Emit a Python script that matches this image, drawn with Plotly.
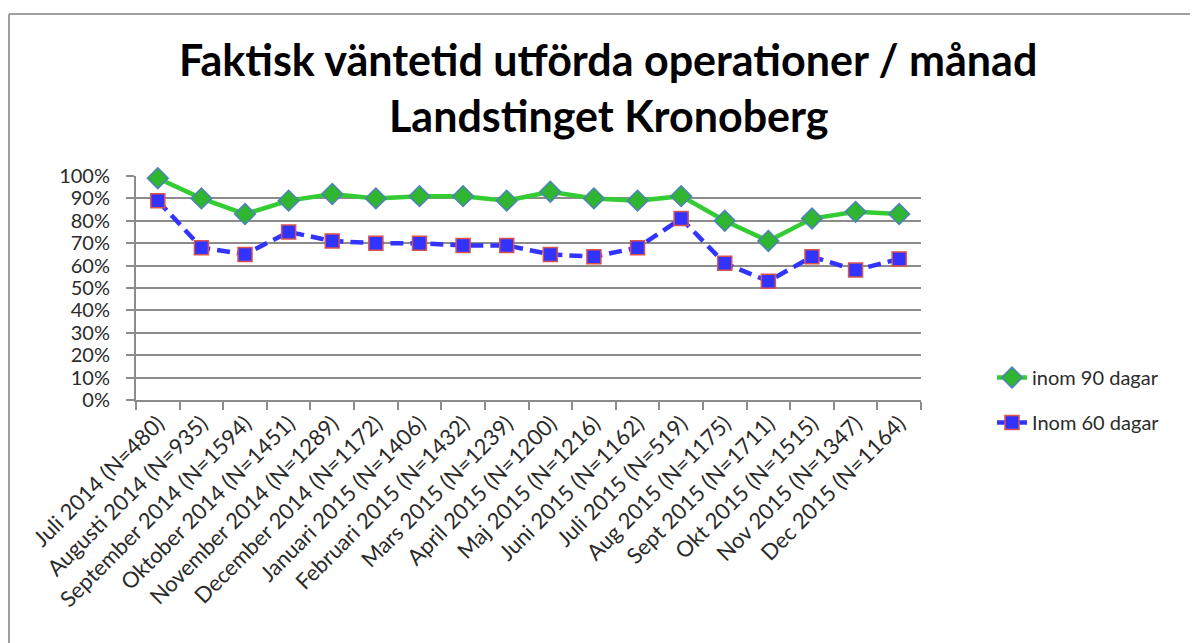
import plotly.graph_objects as go

categories = [
    "Juli 2014 (N=480)", "Augusti 2014 (N=935)", "September 2014 (N=1594)",
    "Oktober 2014 (N=1451)", "November 2014 (N=1289)", "December 2014 (N=1172)",
    "Januari 2015 (N=1406)", "Februari 2015 (N=1432)", "Mars 2015 (N=1239)",
    "April 2015 (N=1200)", "Maj 2015 (N=1216)", "Juni 2015 (N=1162)",
    "Juli 2015 (N=519)", "Aug 2015 (N=1175)", "Sept 2015 (N=1711)",
    "Okt 2015 (N=1515)", "Nov 2015 (N=1347)", "Dec 2015 (N=1164)",
]
inom_90 = [99, 90, 83, 89, 92, 90, 91, 91, 89, 93, 90, 89, 91, 80, 71, 81, 84, 83]
inom_60 = [89, 68, 65, 75, 71, 70, 70, 69, 69, 65, 64, 68, 81, 61, 53, 64, 58, 63]
series_names = ["inom 90 dagar", "Inom 60 dagar"]
title_lines = ["Faktisk väntetid utförda operationer / månad", "Landstinget Kronoberg"]

# page has an 8px body margin; figure coordinates = screen - 8
W, H = 1190, 635
L, R, T, B = 128, 277, 168, 243
pw, ph = W - L - R, H - T - B

def px(x):
    return (x - L) / pw

def py(y):
    return (H - B - y) / ph

font_family = "Lato, sans-serif"
text_color = "#2b2b2b"

fig = go.Figure()
fig.add_trace(go.Scatter(
    x=categories, y=inom_90, name=series_names[0], mode="lines+markers",
    legendgroup="a", cliponaxis=False,
    line=dict(color="#33cc33", width=4.5),
    marker=dict(symbol="diamond", size=16, color="#2fb52f",
                line=dict(color="#4f81bd", width=1.5)),
))
fig.add_trace(go.Scatter(
    x=categories, y=inom_60, name=series_names[1], mode="lines+markers",
    legendgroup="b", cliponaxis=False,
    line=dict(color="#3333ff", width=4.5, dash="13px,7px"),
    marker=dict(symbol="square", size=14, color="#3333ff",
                line=dict(color="#d9534f", width=1.5)),
))

fig.update_layout(
    width=W, height=H,
    margin=dict(l=L, r=R, t=T, b=B),
    paper_bgcolor="white", plot_bgcolor="white",
    showlegend=True,
    legend=dict(x=px(984), y=py(350), xanchor="left", yanchor="top",
                font=dict(family=font_family, size=20, color=text_color),
                tracegroupgap=16, traceorder="grouped",
                bgcolor="rgba(0,0,0,0)"),
    font=dict(family=font_family, color=text_color),
)

fig.update_xaxes(
    type="category", tickangle=-45, tickson="boundaries",
    ticks="outside", ticklen=8, tickcolor="#8c8c8c", tickwidth=2,
    showline=True, linecolor="#8c8c8c", linewidth=2,
    showgrid=False, tickfont=dict(size=22, family=font_family, color=text_color),
    range=[-0.5, len(categories) - 0.5],
)
fig.update_yaxes(
    range=[0, 100], dtick=10, ticksuffix="%",
    ticks="outside", ticklen=8, tickcolor="#8c8c8c", tickwidth=2,
    showline=True, linecolor="#8c8c8c", linewidth=2,
    showgrid=True, gridcolor="#8c8c8c", gridwidth=2,
    zeroline=False, ticklabelstandoff=12,
    tickfont=dict(size=20, family=font_family, color=text_color),
)

# Title as two centered lines
fig.add_annotation(text="<b>%s</b>" % title_lines[0], xref="paper", yref="paper",
                   x=px(600), y=py(51), xanchor="center", yanchor="middle",
                   showarrow=False, font=dict(size=43, family="Lato, sans-serif", color="black"))
fig.add_annotation(text="<b>%s</b>" % title_lines[1], xref="paper", yref="paper",
                   x=px(601), y=py(107), xanchor="center", yanchor="middle",
                   showarrow=False, font=dict(size=43, family="Lato, sans-serif", color="black"))

# Chart frame
fig.add_shape(type="line", xref="paper", yref="paper",
              x0=px(1), y0=py(6), x1=px(1200), y1=py(6),
              line=dict(color="#a0a0a0", width=2))
fig.add_shape(type="line", xref="paper", yref="paper",
              x0=px(1), y0=py(6), x1=px(1), y1=py(640),
              line=dict(color="#a0a0a0", width=2))

fig.write_html("out.html")
